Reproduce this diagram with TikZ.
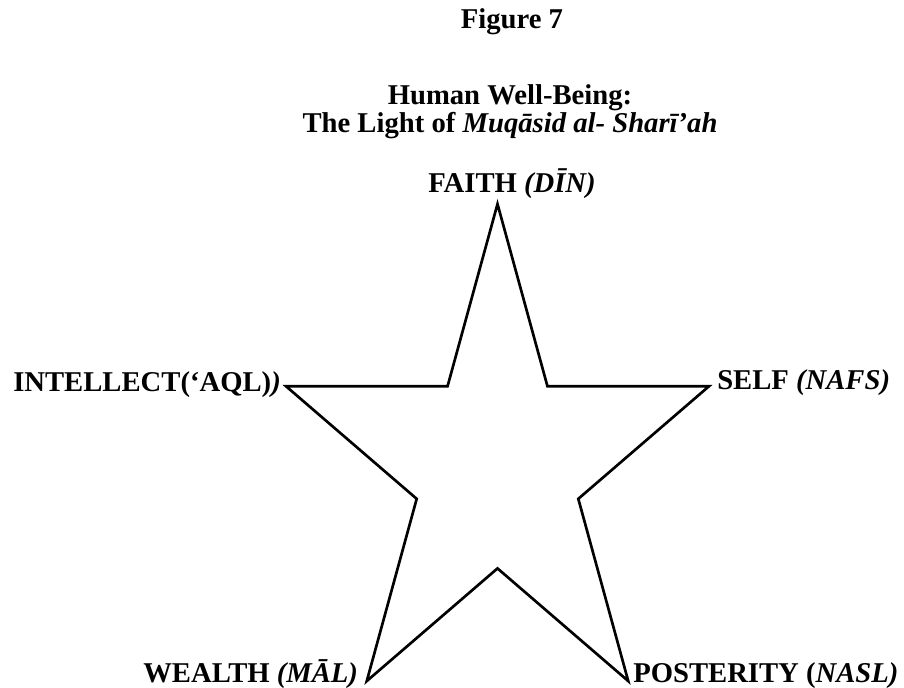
\documentclass[tikz,border=0pt]{standalone}
\usepackage{fontspec}
\setmainfont{Liberation Serif}
\usetikzlibrary{calc}
\definecolor{Ink}{HTML}{000000}
\tikzset{
  every picture/.append style={font=\fontsize{21.5}{24}\selectfont\bfseries},
  lbl/.style={inner sep=0pt, text=Ink, anchor=base west},
  ttl/.style={inner sep=0pt, text=Ink, anchor=base},
  starline/.style={draw=Ink, line width=2pt, line join=miter},
}
\begin{document}
\begin{tikzpicture}[x=0.75pt,y=-0.75pt]
\useasboundingbox (0,0) rectangle (904,687);

% star centre and radii (pixels of the page, y downwards)
\def\cx{497.5}\def\cy{467.7}
\def\Rx{222.4}\def\Ry{263.7}
\def\rx{84.96}\def\ry{100.7}

% ======================= title =====================================================
\node[ttl] (fig) at (512,28) {Figure 7};
\node[ttl] (head1) at (510,104) {Human Well-Being:};
\node[ttl] (head2) at (510,132) {The Light of \textit{Muqāsid al- Sharī’ah}};

% ======================= star points ===============================================
\foreach \i in {0,...,4} {
  \coordinate (o\i) at ({\cx+\Rx*cos(90+72*\i)},{\cy-\Ry*sin(90+72*\i)});
  \coordinate (n\i) at ({\cx+\rx*cos(126+72*\i)},{\cy-\ry*sin(126+72*\i)});
}
\draw[starline] (o0) -- (n0) -- (o1) -- (n1) -- (o2) -- (n2)
  -- (o3) -- (n3) -- (o4) -- (n4) -- cycle;

% ======================= labels at the tips ========================================
\node[lbl] (faith) at (428,192) {FAITH \textit{(DĪN)}};
\node[lbl] (intellect) at (13,391) {INTELLECT(‘AQL)\textit{)}};
\node[lbl] (self) at (717,389) {SELF \textit{(NAFS)}};
\node[lbl] (wealth) at (143,682) {WEALTH \textit{(MĀL)}};
\node[lbl] (posterity) at (633,682) {POSTERITY (\textit{NASL)}};

\end{tikzpicture}
\end{document}
